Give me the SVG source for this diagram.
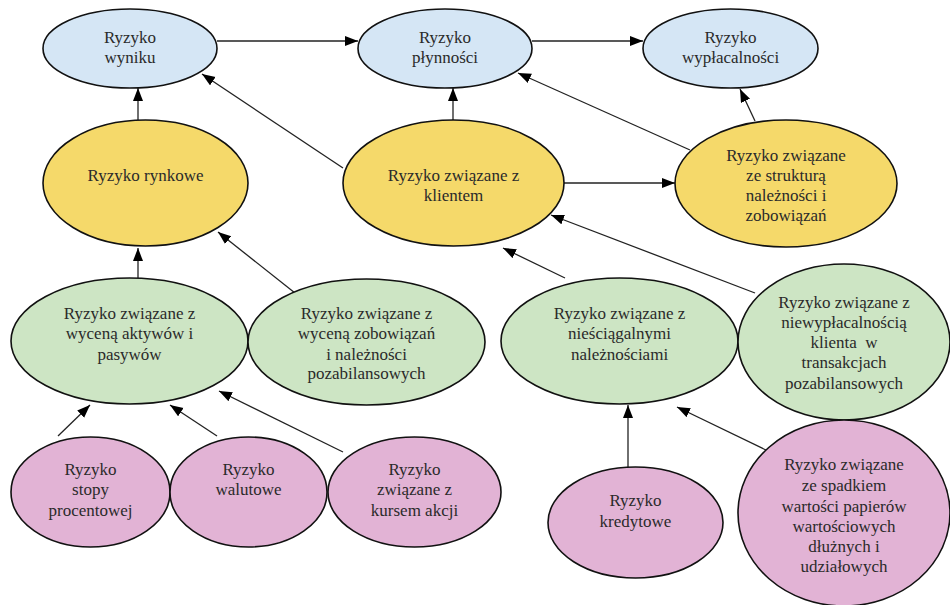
<svg xmlns="http://www.w3.org/2000/svg" width="950" height="605" viewBox="0 0 950 605" font-family="Liberation Serif" font-size="17">
<style>
.n ellipse{stroke:#111;stroke-width:1.6}
.b ellipse{fill:#D5E6F5}
.y ellipse{fill:#F5D96A}
.g ellipse{fill:#CDE5C4}
.p ellipse{fill:#E2B3D5}
.n text{fill:#2a2a2a;text-anchor:middle}
.c line{stroke:#222;stroke-width:1.3;marker-end:url(#ah)}
</style>
<defs>
<marker id="ah" markerUnits="userSpaceOnUse" markerWidth="14" markerHeight="12" refX="13" refY="5" orient="auto">
<path d="M0,0 L13,5 L0,10 Z" fill="#000"/>
</marker>
</defs>
<rect width="950" height="605" fill="#fff"/>
<g class="c">
<line x1="217" y1="41" x2="358" y2="41"/>
<line x1="532" y1="41" x2="643" y2="41"/>
<line x1="138" y1="120" x2="138" y2="88"/>
<line x1="453" y1="120" x2="453" y2="88"/>
<line x1="343" y1="168" x2="202" y2="74"/>
<line x1="690" y1="150" x2="518" y2="73"/>
<line x1="755" y1="121" x2="740" y2="89"/>
<line x1="564" y1="183" x2="675" y2="183"/>
<line x1="138" y1="278" x2="138" y2="248"/>
<line x1="295" y1="293" x2="218" y2="232"/>
<line x1="565" y1="278" x2="503" y2="248"/>
<line x1="755" y1="293" x2="551" y2="215"/>
<line x1="58" y1="436" x2="90" y2="405"/>
<line x1="217" y1="436" x2="170" y2="405"/>
<line x1="343" y1="452" x2="219" y2="391"/>
<line x1="628" y1="467" x2="628" y2="405"/>
<line x1="770" y1="452" x2="677" y2="407"/>
</g>
<g id="wynik" class="n b"><ellipse cx="130" cy="48.5" rx="87" ry="39.5"/><text x="130" y="43" font-family="Liberation Serif">Ryzyko</text><text x="130" y="63" font-family="Liberation Serif">wyniku</text></g>
<g id="plynnosc" class="n b"><ellipse cx="445" cy="48.5" rx="87" ry="39.5"/><text x="445" y="43" font-family="Liberation Serif">Ryzyko</text><text x="445" y="63" font-family="Liberation Serif">płynności</text></g>
<g id="wyplacalnosc" class="n b"><ellipse cx="730.5" cy="48.5" rx="87.5" ry="39.5"/><text x="730.5" y="43" font-family="Liberation Serif">Ryzyko</text><text x="730.5" y="63" font-family="Liberation Serif">wypłacalności</text></g>
<g id="rynkowe" class="n y"><ellipse cx="145.5" cy="183" rx="102.5" ry="63"/><text x="145.5" y="181" font-family="Liberation Serif">Ryzyko rynkowe</text></g>
<g id="klient" class="n y"><ellipse cx="453.5" cy="183" rx="110.5" ry="63"/><text x="453.5" y="181" font-family="Liberation Serif">Ryzyko związane z</text><text x="453.5" y="201" font-family="Liberation Serif">klientem</text></g>
<g id="struktura" class="n y"><ellipse cx="786" cy="183.5" rx="111" ry="63.5"/><text x="786" y="161" font-family="Liberation Serif">Ryzyko związane</text><text x="786" y="181" font-family="Liberation Serif">ze strukturą</text><text x="786" y="201" font-family="Liberation Serif">należności i</text><text x="786" y="221" font-family="Liberation Serif">zobowiązań</text></g>
<g id="aktywa" class="n g"><ellipse cx="129.5" cy="341" rx="118.5" ry="63"/><text x="129.5" y="319" font-family="Liberation Serif">Ryzyko związane z</text><text x="129.5" y="339" font-family="Liberation Serif">wyceną aktywów i</text><text x="129.5" y="360" font-family="Liberation Serif">pasywów</text></g>
<g id="zobowiazania" class="n g"><ellipse cx="366.5" cy="342" rx="118.5" ry="63"/><text x="366.5" y="319" font-family="Liberation Serif">Ryzyko związane z</text><text x="366.5" y="339" font-family="Liberation Serif">wyceną zobowiązań</text><text x="366.5" y="360" font-family="Liberation Serif">i należności</text><text x="366.5" y="379" font-family="Liberation Serif">pozabilansowych</text></g>
<g id="niesciagalne" class="n g"><ellipse cx="619.5" cy="341" rx="118.5" ry="63"/><text x="619.5" y="319" font-family="Liberation Serif">Ryzyko związane z</text><text x="619.5" y="339" font-family="Liberation Serif">nieściągalnymi</text><text x="619.5" y="360" font-family="Liberation Serif">należnościami</text></g>
<g id="niewyplacalnosc" class="n g"><ellipse cx="844" cy="342" rx="106" ry="78"/><text x="844" y="308" font-family="Liberation Serif">Ryzyko związane z</text><text x="844" y="328" font-family="Liberation Serif">niewypłacalnością</text><text x="844" y="348" font-family="Liberation Serif" xml:space="preserve">klienta  w</text><text x="844" y="368" font-family="Liberation Serif">transakcjach</text><text x="844" y="389" font-family="Liberation Serif">pozabilansowych</text></g>
<g id="stopy" class="n p"><ellipse cx="90.5" cy="492" rx="79.5" ry="55"/><text x="90.5" y="475" font-family="Liberation Serif">Ryzyko</text><text x="90.5" y="495" font-family="Liberation Serif">stopy</text><text x="90.5" y="516" font-family="Liberation Serif">procentowej</text></g>
<g id="walutowe" class="n p"><ellipse cx="248.5" cy="492" rx="78.5" ry="55"/><text x="248.5" y="475" font-family="Liberation Serif">Ryzyko</text><text x="248.5" y="495" font-family="Liberation Serif">walutowe</text></g>
<g id="akcje" class="n p"><ellipse cx="414.5" cy="492" rx="86.5" ry="55"/><text x="414.5" y="475" font-family="Liberation Serif">Ryzyko</text><text x="414.5" y="495" font-family="Liberation Serif">związane z</text><text x="414.5" y="516" font-family="Liberation Serif">kursem akcji</text></g>
<g id="kredytowe" class="n p"><ellipse cx="635.5" cy="522.5" rx="87.5" ry="55.5"/><text x="635.5" y="506" font-family="Liberation Serif">Ryzyko</text><text x="635.5" y="527" font-family="Liberation Serif">kredytowe</text></g>
<g id="papiery" class="n p"><ellipse cx="844" cy="513" rx="106" ry="93"/><text x="844" y="470" font-family="Liberation Serif">Ryzyko związane</text><text x="844" y="491" font-family="Liberation Serif">ze spadkiem</text><text x="844" y="512" font-family="Liberation Serif">wartości papierów</text><text x="844" y="532" font-family="Liberation Serif">wartościowych</text><text x="844" y="552" font-family="Liberation Serif">dłużnych i</text><text x="844" y="572" font-family="Liberation Serif">udziałowych</text></g>
</svg>
